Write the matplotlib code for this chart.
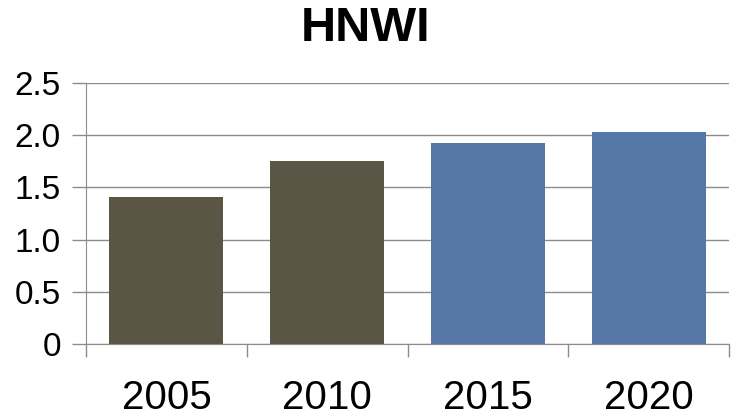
import matplotlib.pyplot as plt
import numpy as np

# Data
years = ['2005', '2010', '2015', '2020']
values = [1.41, 1.75, 1.93, 2.03]
colors = ['#5b5545', '#5b5545', '#5577a8', '#5577a8']

plt.rcParams['font.family'] = ['Liberation Sans Narrow', 'Liberation Sans', 'DejaVu Sans']

fig = plt.figure(figsize=(7.31, 4.18), dpi=100)
ax = fig.add_axes([86 / 731, 1 - 344 / 418, 643 / 731, 261 / 418])

x = np.arange(len(years))
ax.bar(x, values, width=0.71, color=colors, zorder=3)

ax.set_xlim(-0.5, len(years) - 0.5)
ax.set_ylim(0, 2.5)
ax.set_yticks([0, 0.5, 1.0, 1.5, 2.0, 2.5])
ax.set_yticklabels(['0', '0.5', '1.0', '1.5', '2.0', '2.5'])

# x ticks sit between categories, labels centred under bars
ax.set_xticks(np.arange(-0.5, len(years)), minor=False)
ax.set_xticklabels([])
ax.set_xticks(x, minor=True)
ax.set_xticklabels(years, minor=True)
ax.tick_params(axis='x', which='major', length=9, width=1, color='#8c8c8c', direction='out')
ax.tick_params(axis='x', which='minor', length=0, pad=25, labelsize=29)
ax.tick_params(axis='y', length=10, width=1, color='#8c8c8c', pad=8, labelsize=24)

ax.grid(axis='y', color='#8c8c8c', linewidth=1, zorder=0)
for side in ['top', 'right']:
    ax.spines[side].set_visible(False)
ax.spines['left'].set_color('#8c8c8c')
ax.spines['bottom'].set_color('#8c8c8c')

fig.suptitle('HNWI', x=0.5, y=0.985, fontsize=35, fontweight='bold', va='top')

plt.savefig('out.png', dpi=100)
